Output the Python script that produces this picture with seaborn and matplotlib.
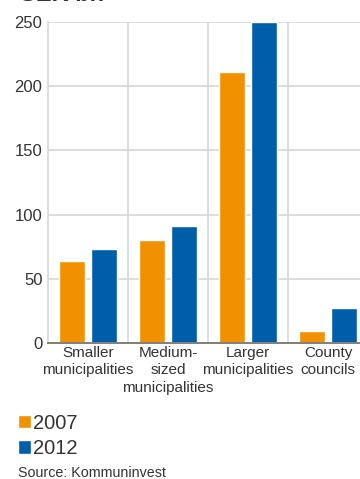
import matplotlib
matplotlib.use("Agg")
import matplotlib.pyplot as plt
import seaborn as sns
import pandas as pd

categories = ["Smaller\nmunicipalities", "Medium-\nsized\nmunicipalities",
              "Larger\nmunicipalities", "County\ncouncils"]
years = ["2007", "2012"]
values_2007 = [63.5, 80, 211, 9]
values_2012 = [73, 91.5, 250, 27]
y_ticks = [0, 50, 100, 150, 200, 250]

ORANGE = "#F29100"
BLUE = "#005DAA"
GRID = "#D3D3D3"
TEXT = "#333333"

sns.set_style("white")
plt.rcParams["font.family"] = ["Liberation Sans", "DejaVu Sans"]

df = pd.DataFrame({
    "category": categories * 2,
    "year": [years[0]] * 4 + [years[1]] * 4,
    "value": values_2007 + values_2012,
})

W, H = 360, 479
fig = plt.figure(figsize=(W / 100, H / 100), dpi=100)
ax = fig.add_axes([48 / W, (H - 343) / H, 320 / W, 321 / H])

sns.barplot(data=df, x="category", y="value", hue="year", order=categories,
            hue_order=years, palette=[ORANGE, BLUE], width=0.8, gap=0.1875,
            saturation=1, ax=ax, zorder=3)

ax.set_xlim(-0.5, 3.5)
ax.set_ylim(0, 250)
ax.set_yticks(y_ticks)
ax.set_xticks(range(len(categories)))
ax.set_xticks([0.5, 1.5, 2.5, 3.5], minor=True)
ax.set_xlabel("")
ax.set_ylabel("")

ax.grid(axis="y", which="major", color=GRID, linewidth=1.1, zorder=0)
ax.grid(axis="x", which="minor", color=GRID, linewidth=1.1, zorder=0)
ax.grid(axis="x", which="major", visible=False)

for side in ("top", "right"):
    ax.spines[side].set_visible(False)
ax.spines["left"].set_color(GRID)
ax.spines["left"].set_linewidth(1.1)
ax.spines["bottom"].set_color("#7F7F7F")
ax.spines["bottom"].set_linewidth(1.4)
ax.spines["bottom"].set_zorder(4)

ax.tick_params(axis="both", which="both", length=0)
ax.tick_params(axis="y", pad=4, labelsize=12, labelcolor=TEXT)
ax.tick_params(axis="x", pad=2, labelsize=11, labelcolor=TEXT)
for lbl in ax.get_xticklabels():
    lbl.set_linespacing(1.32)

handles, labels = ax.get_legend_handles_labels()
ax.get_legend().remove()
fig.legend(handles, labels, loc="upper left",
           bbox_to_anchor=(14 / W, 1 - 410 / H), frameon=False,
           fontsize=14.5, labelcolor=TEXT, handlelength=0.62, handleheight=0.62,
           handletextpad=0.12, labelspacing=0.3, borderpad=0.2,
           borderaxespad=0)

fig.text(18 / W, 1 - 477 / H, "Source: Kommuninvest", fontsize=10.3,
         color=TEXT, va="baseline", ha="left")

# Heading sits just above the top edge of the figure
fig.text(20 / W, 1 - 0.8 / H, "SEK bn", fontsize=17, fontweight="bold",
         color=TEXT, va="baseline", ha="left")

fig.savefig("out.png", dpi=100, facecolor="white")
